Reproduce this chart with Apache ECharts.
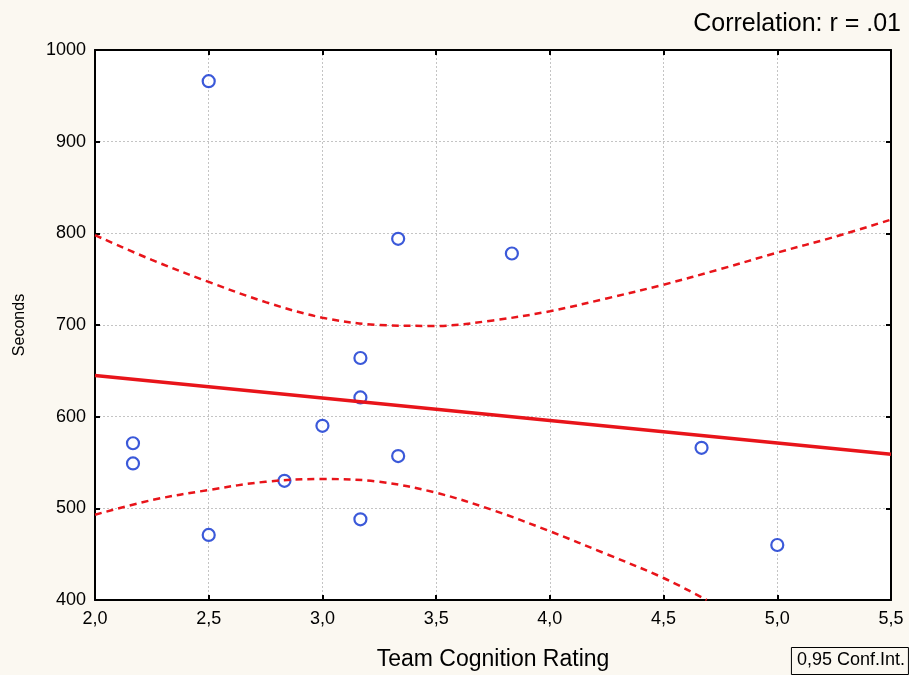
<!DOCTYPE html>
<html><head><meta charset="utf-8">
<script src="https://cdn.jsdelivr.net/npm/echarts@6/dist/echarts.min.js"></script>
<style>html,body{margin:0;padding:0;background:#FBF8F1;}#c{width:909px;height:675px;}</style>
</head><body><div id="c"></div>
<script>
const titleText = 'Correlation: r = .01';
const xLabel = 'Team Cognition Rating';
const yLabel = 'Seconds';
const legendText = '0,95 Conf.Int.';

const pointX = [2.5, 2.167, 2.167, 2.5, 2.833, 3.0, 3.167, 3.167, 3.167, 3.333, 3.333, 3.833, 4.667, 5.0];
const pointY = [966, 571, 549, 471, 530, 590, 664, 621, 488, 794, 557, 778, 566, 460];

const fitX = [2.0, 5.5];
const fitY = [645, 559];

const upperX = [2.0, 2.25, 2.5, 2.75, 3.0, 3.25, 3.5, 3.75, 4.0, 4.25, 4.5, 4.75, 5.0, 5.25, 5.5];
const upperY = [798, 771, 747, 725, 708, 700, 699, 705, 715, 729, 744, 761, 779, 796, 815];

const lowerX = [2.0, 2.25, 2.5, 2.75, 3.0, 3.25, 3.5, 3.75, 4.0, 4.25, 4.5, 4.69];
const lowerY = [493, 509, 520, 529, 532, 529, 517, 498, 475, 450, 424, 400];

const zip = (a, b) => a.map((v, i) => [v, b[i]]);
const font = 'Liberation Sans, Arial, sans-serif';
const gridLine = {show: true, lineStyle: {color: '#c4c4c4', type: [2, 2], width: 1}};
const axLine = {show: true, onZero: false, lineStyle: {color: '#000', width: 2}};
const ticks = {show: true, inside: true, length: 5, lineStyle: {color: '#000', width: 2}};

const chart = echarts.init(document.getElementById('c'));
chart.setOption({
  backgroundColor: '#FBF8F1',
  animation: false,
  title: [
    {text: titleText, right: 3, top: 7, textStyle: {fontFamily: font, fontSize: 25, fontWeight: 'normal', color: '#000'}},
    {text: legendText, right: 0, top: 647, borderColor: '#000', borderWidth: 1, padding: [4, 4, 6, 6],
     textStyle: {fontFamily: font, fontSize: 18, fontWeight: 'normal', color: '#000'}}
  ],
  grid: {left: 95, right: 18, top: 50, bottom: 75, show: true, backgroundColor: '#fff', borderWidth: 0,
         containLabel: false, outerBoundsMode: 'none'},
  xAxis: [
    {type: 'value', min: 2.0, max: 5.5, interval: 0.5, position: 'bottom',
     name: xLabel, nameLocation: 'middle', nameGap: 48,
     nameTextStyle: {fontFamily: font, fontSize: 23, color: '#000'},
     axisLine: axLine, axisTick: ticks, splitLine: gridLine,
     axisLabel: {fontFamily: font, fontSize: 18, color: '#000', margin: 10,
       formatter: v => v.toFixed(1).replace('.', ',')}},
    {type: 'value', min: 2.0, max: 5.5, interval: 0.5, position: 'top',
     axisLine: axLine, axisTick: ticks, splitLine: {show: false}, axisLabel: {show: false}}
  ],
  yAxis: [
    {type: 'value', min: 400, max: 1000, interval: 100, position: 'left',
     name: yLabel, nameLocation: 'middle', nameGap: 67, nameRotate: 90,
     nameTextStyle: {fontFamily: font, fontSize: 16, color: '#000'},
     axisLine: axLine, axisTick: ticks, splitLine: gridLine,
     axisLabel: {fontFamily: font, fontSize: 18, color: '#000', margin: 9, formatter: v => String(v)}},
    {type: 'value', min: 400, max: 1000, interval: 100, position: 'right',
     axisLine: axLine, axisTick: ticks, splitLine: {show: false}, axisLabel: {show: false}}
  ],
  series: [
    {type: 'line', data: zip(upperX, upperY), smooth: 0.35, symbol: 'none', clip: true,
     lineStyle: {color: '#e8141a', width: 2.5, type: [7, 5]}},
    {type: 'line', data: zip(lowerX, lowerY), smooth: 0.35, symbol: 'none', clip: true,
     lineStyle: {color: '#e8141a', width: 2.5, type: [7, 5]}},
    {type: 'line', data: zip(fitX, fitY), symbol: 'none',
     lineStyle: {color: '#e8141a', width: 3.5}},
    {type: 'scatter', data: zip(pointX, pointY), symbol: 'circle', symbolSize: 12,
     itemStyle: {color: '#fff', borderColor: '#0a30d0', borderWidth: 2.2}}
  ]
});
</script>
</body></html>
